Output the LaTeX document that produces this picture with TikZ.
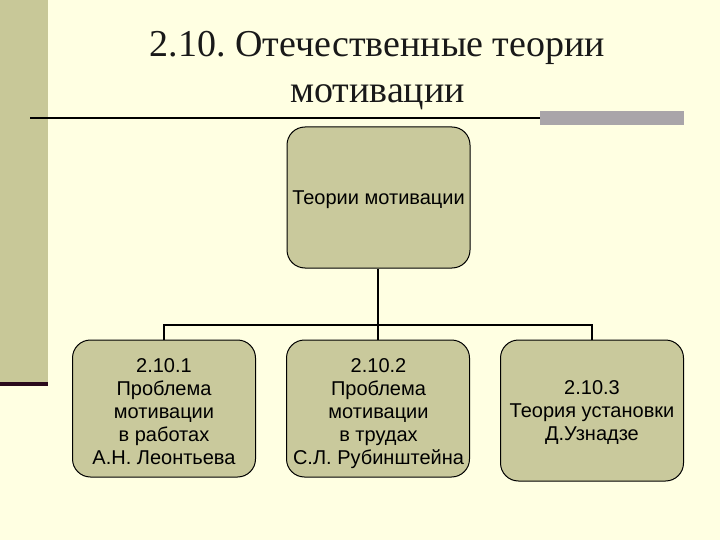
\documentclass[tikz,border=0pt]{standalone}
\usepackage{fontspec}
\setmainfont{Liberation Serif}
\newfontfamily\arial{Liberation Sans}
\definecolor{bg}{HTML}{FFFFE2}
\definecolor{olive}{HTML}{C8C898}
\definecolor{boxfill}{HTML}{C9C99C}
\definecolor{greybar}{HTML}{A9A5A9}
\definecolor{maroon}{HTML}{2A0A1C}
\begin{document}
\frenchspacing
\begin{tikzpicture}[x=1pt,y=-1pt,
  tbox/.style={draw=black, line width=1pt, fill=boxfill, rounded corners=18pt,
    minimum width=183pt, inner sep=0pt},
  ttext/.style={align=center, font=\arial\fontsize{20}{22.8}\selectfont, inner sep=0pt, anchor=base},
  conn/.style={draw=black, line width=2pt}]
\useasboundingbox (0,0) rectangle (720,540);
\fill[bg] (0,0) rectangle (720,540);
\fill[olive] (0,0) rectangle (48,382);
\fill[maroon] (0,382) rectangle (48,385.5);
\draw[line width=2pt, black] (30,118) -- (541,118);
\fill[greybar] (540,111) rectangle (684,125);
\node[font=\fontsize{38}{46}\selectfont, align=center, text=black!90, anchor=base] (title) at (377.5,103)
  {2.10. Отечественные теории\\мотивации};
\node[tbox, minimum height=141pt] (top) at (378.5,197.5) {};
\node[tbox, minimum height=137pt] (b1) at (164,408.5) {};
\node[tbox, minimum height=137pt] (b2) at (378,408.5) {};
\node[tbox, minimum height=141pt] (b3) at (592,410.5) {};
\node[ttext] (tt) at (378.5,205) {Теории мотивации};
\node[ttext] (t1) at (164,464) {2.10.1\\Проблема\\мотивации\\в работах\\А.Н. Леонтьева};
\node[ttext] (t2) at (378.5,464) {2.10.2\\Проблема\\мотивации\\в трудах\\С.Л. Рубинштейна};
\node[ttext] (t3) at (592,440) {2.10.3\\Теория установки\\Д.Узнадзе};
\coordinate (j) at (378,325);
\draw[conn] (top.south -| j) -- (j);
\draw[conn] (b1.north) |- (j) -| (b3.north);
\draw[conn] (j) -- (b2.north);
\end{tikzpicture}
\end{document}
